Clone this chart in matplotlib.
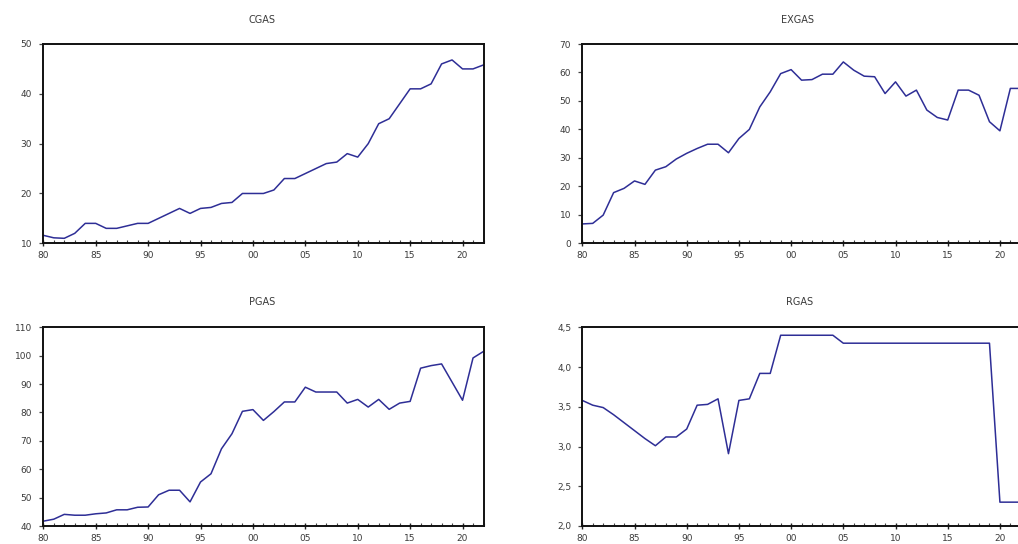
import matplotlib
matplotlib.use("Agg")
import matplotlib.pyplot as plt
from matplotlib.ticker import FixedLocator, MultipleLocator

years = list(range(1980, 2023))

cgas = [11.6, 11.1, 11.0, 12.0, 14.0, 14.0, 13.0, 13.0, 13.5, 14.0,
        14.0, 15.0, 16.0, 17.0, 16.0, 17.0, 17.2, 18.0, 18.2, 20.0,
        20.0, 20.0, 20.7, 23.0, 23.0, 24.0, 25.0, 26.0, 26.3, 28.0,
        27.3, 30.0, 34.0, 35.0, 38.0, 41.0, 41.0, 42.0, 46.0, 46.8,
        45.0, 45.0, 45.8]

exgas = [6.8, 7.0, 9.9, 17.8, 19.3, 21.9, 20.7, 25.7, 26.9, 29.6,
         31.6, 33.3, 34.8, 34.8, 31.8, 36.8, 40.0, 47.9, 53.2, 59.6,
         61.0, 57.3, 57.5, 59.4, 59.4, 63.7, 60.8, 58.7, 58.5, 52.6,
         56.7, 51.7, 53.8, 46.8, 44.2, 43.3, 53.8, 53.8, 52.0, 42.7,
         39.5, 54.4, 54.4]

pgas = [41.7, 42.4, 44.1, 43.8, 43.8, 44.3, 44.6, 45.7, 45.7, 46.6,
        46.7, 51.0, 52.6, 52.6, 48.5, 55.5, 58.4, 67.2, 72.5, 80.4,
        81.0, 77.2, 80.3, 83.7, 83.7, 88.9, 87.2, 87.2, 87.2, 83.3,
        84.6, 81.9, 84.6, 81.1, 83.3, 83.9, 95.6, 96.5, 97.1, 90.7,
        84.3, 99.2, 101.5]

rgas = [3.58, 3.52, 3.49, 3.40, 3.30, 3.20, 3.10, 3.01, 3.12, 3.12,
        3.22, 3.52, 3.53, 3.60, 2.91, 3.58, 3.60, 3.92, 3.92, 4.40,
        4.40, 4.40, 4.40, 4.40, 4.40, 4.30, 4.30, 4.30, 4.30, 4.30,
        4.30, 4.30, 4.30, 4.30, 4.30, 4.30, 4.30, 4.30, 4.30, 4.30,
        2.30, 2.30, 2.30]

xtick_years = [1980, 1985, 1990, 1995, 2000, 2005, 2010, 2015, 2020]
xtick_labels = ["80", "85", "90", "95", "00", "05", "10", "15", "20"]

panels = [
    ("CGAS", cgas, [10, 20, 30, 40, 50], ["10", "20", "30", "40", "50"], (10, 50)),
    ("EXGAS", exgas, [0, 10, 20, 30, 40, 50, 60, 70],
     ["0", "10", "20", "30", "40", "50", "60", "70"], (0, 70)),
    ("PGAS", pgas, [40, 50, 60, 70, 80, 90, 100, 110],
     ["40", "50", "60", "70", "80", "90", "100", "110"], (40, 110)),
    ("RGAS", rgas, [2.0, 2.5, 3.0, 3.5, 4.0, 4.5],
     ["2,0", "2,5", "3,0", "3,5", "4,0", "4,5"], (2.0, 4.5)),
]

W, H = 1018, 544
fig = plt.figure(figsize=(W / 100, H / 100), dpi=100)
fig.patch.set_facecolor("white")

# axes rectangles in pixels: left, top, right, bottom
rects = [
    (43.3, 44.0, 483.5, 243.3),
    (582.3, 44.0, 1020.8, 243.3),
    (43.3, 327.3, 483.5, 526.0),
    (582.3, 327.3, 1020.8, 526.0),
]
title_pos = [(262, 20), (798, 20), (262, 302), (800, 302)]

line_color = "#2e2e96"
text_color = "#3a3a3a"

for (name, vals, yt, ytl, ylim), (l, t, r, b), (tx, ty) in zip(panels, rects, title_pos):
    ax = fig.add_axes([l / W, 1 - b / H, (r - l) / W, (b - t) / H])
    ax.plot(years, vals, color=line_color, lw=1.1)
    ax.set_xlim(1980, 2022)
    ax.set_ylim(*ylim)
    ax.xaxis.set_major_locator(FixedLocator(xtick_years))
    ax.set_xticklabels(xtick_labels)
    ax.xaxis.set_minor_locator(MultipleLocator(1))
    ax.set_yticks(yt)
    ax.set_yticklabels(ytl)
    for sp in ax.spines.values():
        sp.set_color("#111111")
        sp.set_linewidth(1.4)
    ax.tick_params(axis="x", which="major", direction="inout", length=5, width=1.0,
                   labelsize=6.5, labelcolor=text_color, pad=3, color="#222222")
    ax.tick_params(axis="x", which="minor", direction="in", length=2.5, width=0.8,
                   color="#444444")
    ax.tick_params(axis="y", which="major", direction="out", length=3, width=0.9,
                   labelsize=6.5, labelcolor=text_color, pad=5, color="#444444")
    fig.text(tx / W, 1 - ty / H, name, ha="center", va="center",
             fontsize=7, color=text_color)

fig.savefig("out.png", dpi=100, facecolor="white")
